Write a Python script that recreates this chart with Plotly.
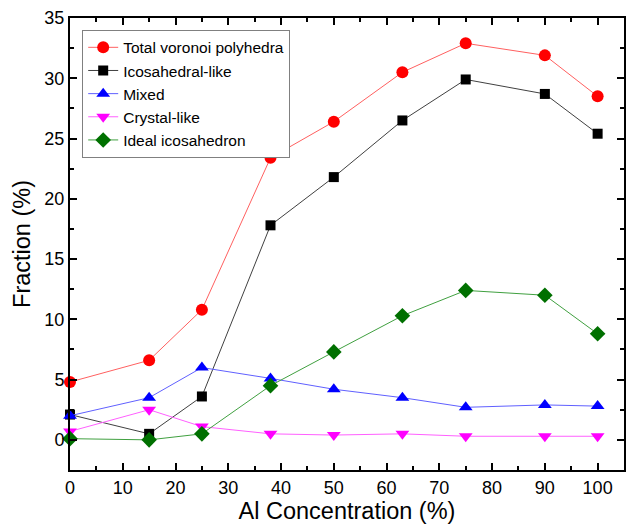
import plotly.graph_objects as go

x_al = [0, 15, 25, 38, 50, 63, 75, 90, 100]
total_voronoi = [4.8, 6.6, 10.8, 23.4, 26.4, 30.5, 32.9, 31.9, 28.5]
icosahedral_like = [2.1, 0.5, 3.6, 17.8, 21.8, 26.5, 29.9, 28.7, 25.4]
mixed = [2.0, 3.5, 6.0, 5.1, 4.2, 3.5, 2.7, 2.9, 2.8]
crystal_like = [0.7, 2.5, 1.1, 0.5, 0.4, 0.5, 0.3, 0.3, 0.3]
ideal_icosahedron = [0.1, 0.0, 0.5, 4.5, 7.3, 10.3, 12.4, 12.0, 8.8]

series = [
    ("Total voronoi polyhedra", total_voronoi, "#ff0000", "#ff6060", "circle", 12),
    ("Icosahedral-like", icosahedral_like, "#000000", "#404040", "square", 10),
    ("Mixed", mixed, "#0000ff", "#6060ff", "triangle-up", 12),
    ("Crystal-like", crystal_like, "#ff00ff", "#ff60ff", "triangle-down", 12),
    ("Ideal icosahedron", ideal_icosahedron, "#007000", "#40a040", "diamond", 12),
]

fig = go.Figure()
for name, vals, mc, lc, sym, sz in series:
    fig.add_trace(go.Scatter(
        x=x_al, y=vals, name=name, mode="lines+markers",
        line=dict(color=lc, width=1),
        marker=dict(color=mc, symbol=sym, size=sz, line=dict(width=0)),
        cliponaxis=False,
    ))

axis_common = dict(
    showline=True, linecolor="black", linewidth=2, mirror="ticks",
    ticks="inside", tickcolor="black", ticklen=7, tickwidth=1.5,
    showgrid=False, zeroline=False,
    tickfont=dict(size=18, color="black"),
    minor=dict(ticks="inside", ticklen=4, tickwidth=1.5, tickcolor="black"),
)

fig.update_layout(
    width=630, height=524,
    margin=dict(l=70, r=4, t=18, b=54),
    paper_bgcolor="white", plot_bgcolor="white",
    font=dict(family="Liberation Sans, Arial, sans-serif", color="black"),
    showlegend=True,
    legend=dict(
        x=0.022, y=0.974, xanchor="left", yanchor="top",
        bordercolor="#808080", borderwidth=1, bgcolor="white",
        font=dict(size=15.5), tracegroupgap=0, itemwidth=30,
    ),
    xaxis=dict(
        range=[0, 105], tick0=0, dtick=10,
        title=dict(text="Al Concentration (%)", font=dict(size=23.5), standoff=5),
        **axis_common,
    ),
    yaxis=dict(
        range=[-2.5, 35], tick0=0, dtick=5,
        title=dict(text="Fraction (%)", font=dict(size=23.5), standoff=7),
        **axis_common,
    ),
)
fig.update_xaxes(minor=dict(dtick=5))
fig.update_yaxes(minor=dict(dtick=2.5))

fig.write_html("out.html")
